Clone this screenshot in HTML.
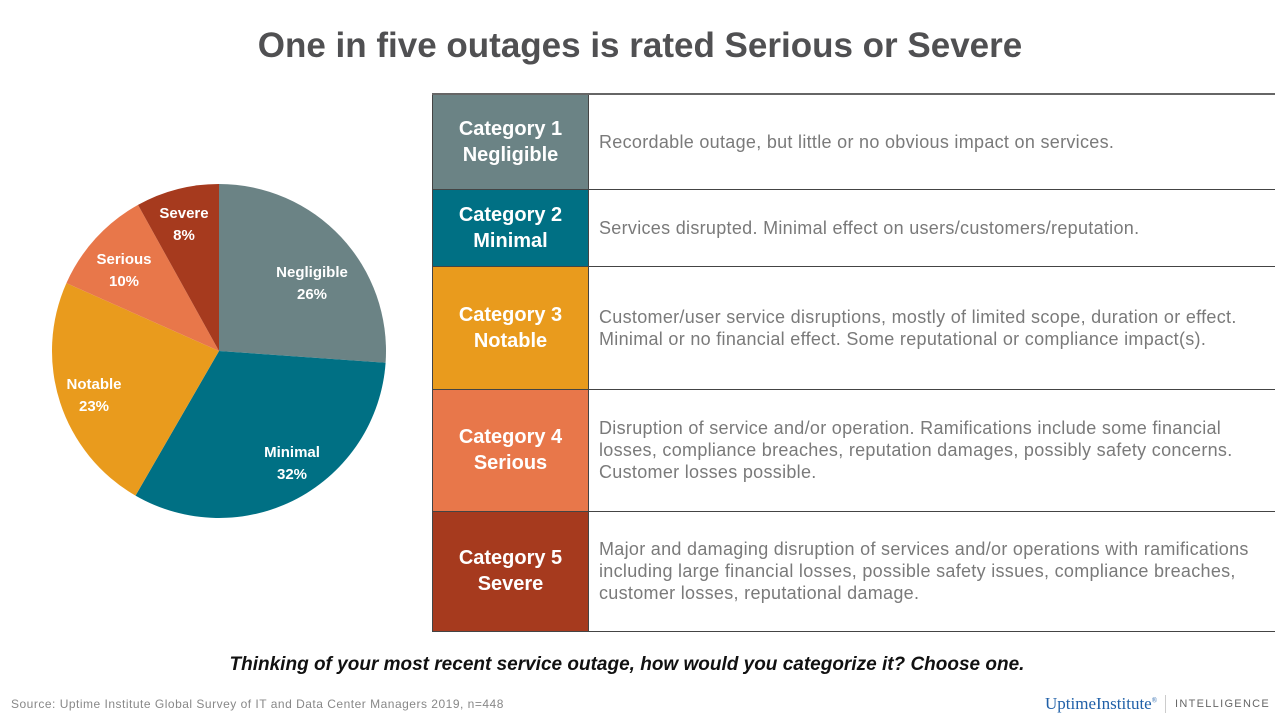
<!DOCTYPE html>
<html><head><style>
body{margin:0;width:1280px;height:720px;background:#fff;font-family:"Liberation Sans",sans-serif;position:relative;overflow:hidden}
.title{position:absolute;top:26px;left:0;width:1280px;text-align:center;font-size:35px;font-weight:bold;color:#505052}
table{position:absolute;left:432px;top:93px;border-collapse:collapse;width:843px}
td{border:1.5px solid #444;padding:0}
td.c{width:155px;color:#fff;font-weight:bold;font-size:20px;text-align:center;line-height:26px}
td.d{padding-left:10px;padding-right:8px;color:#7a7a7a;font-size:18px;letter-spacing:0.3px;line-height:22px;border-right:none}
tr:first-child td{border-top:2px solid #666}
.q{position:absolute;top:654px;left:-13px;width:1280px;text-align:center;font-size:19px;font-weight:bold;font-style:italic;color:#111}
.src{position:absolute;left:11px;top:697px;font-size:12px;letter-spacing:0.5px;color:#888}
.logo{position:absolute;left:1045px;top:694px;font-family:"Liberation Serif",serif;font-size:17px;color:#2060a8}
.int{position:absolute;left:1175px;top:698px;font-size:11px;letter-spacing:1.3px;color:#666}
.bar{position:absolute;left:1165px;top:695px;width:1px;height:18px;background:#ccc}
</style></head><body>
<div class="title">One in five outages is rated Serious or Severe</div>
<svg width="440" height="640" style="position:absolute;left:0;top:0" font-family="Liberation Sans" font-weight="bold" font-size="15" fill="#fff" text-anchor="middle">
<path d="M219,351 L219,184 A167,167 0 0 1 385.6,362.7 Z" fill="#6b8385"/>
<path d="M219,351 L385.6,362.7 A167,167 0 0 1 135.5,495.6 Z" fill="#007084"/>
<path d="M219,351 L135.5,495.6 A167,167 0 0 1 66.4,283.1 Z" fill="#e99b1d"/>
<path d="M219,351 L66.4,283.1 A167,167 0 0 1 138,204.9 Z" fill="#e8774a"/>
<path d="M219,351 L138,204.9 A167,167 0 0 1 219,184 Z" fill="#a63a1e"/>
<text x="312" y="277">Negligible</text><text x="312" y="299">26%</text>
<text x="292" y="457">Minimal</text><text x="292" y="479">32%</text>
<text x="94" y="389">Notable</text><text x="94" y="411">23%</text>
<text x="124" y="264">Serious</text><text x="124" y="286">10%</text>
<text x="184" y="218">Severe</text><text x="184" y="240">8%</text>
</svg>
<table>
<tr style="height:95px"><td class="c" style="background:#6b8385">Category 1<br>Negligible</td><td class="d">Recordable outage, but little or no obvious impact on services.</td></tr>
<tr style="height:77px"><td class="c" style="background:#007084">Category 2<br>Minimal</td><td class="d">Services disrupted. Minimal effect on users/customers/reputation.</td></tr>
<tr style="height:123px"><td class="c" style="background:#e99b1d">Category 3<br>Notable</td><td class="d">Customer/user service disruptions, mostly of limited scope, duration or effect. Minimal or no financial effect. Some reputational or compliance impact(s).</td></tr>
<tr style="height:122px"><td class="c" style="background:#e8774a">Category 4<br>Serious</td><td class="d">Disruption of service and/or operation. Ramifications include some financial losses, compliance breaches, reputation damages, possibly safety concerns. Customer losses possible.</td></tr>
<tr style="height:120px"><td class="c" style="background:#a63a1e">Category 5<br>Severe</td><td class="d">Major and damaging disruption of services and/or operations with ramifications including large financial losses, possible safety issues, compliance breaches, customer losses, reputational damage.</td></tr>
</table>
<div class="q">Thinking of your most recent service outage, how would you categorize it? Choose one.</div>
<div class="src">Source: Uptime Institute Global Survey of IT and Data Center Managers 2019, n=448</div>
<div class="logo">UptimeInstitute<sup style="font-size:7px">®</sup></div>
<div class="bar"></div>
<div class="int">INTELLIGENCE</div>
</body></html>
